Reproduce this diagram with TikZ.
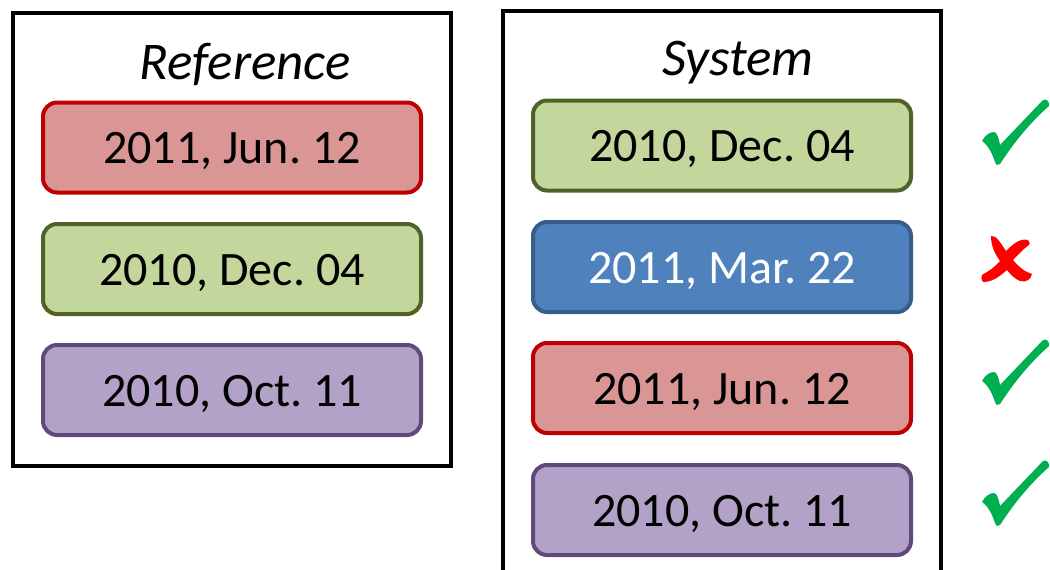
\documentclass[tikz,border=0pt]{standalone}
\usepackage{fontspec}
\setmainfont{Carlito}
\definecolor{redfill}{HTML}{D99694}
\definecolor{redline}{HTML}{C00000}
\definecolor{greenfill}{HTML}{C3D69B}
\definecolor{greenline}{HTML}{4F6228}
\definecolor{bluefill}{HTML}{4F81BD}
\definecolor{blueline}{HTML}{385D8A}
\definecolor{purplefill}{HTML}{B3A2C7}
\definecolor{purpleline}{HTML}{604A7B}
\definecolor{okgreen}{HTML}{00B050}
\definecolor{badred}{HTML}{FF0000}
\tikzset{
  outerbox/.style={draw=black, line width=4.5pt, inner sep=0pt},
  datebox/.style={rounded corners=14pt, line width=4pt, minimum width=378pt,
    minimum height=90pt, inner sep=0pt, text height=32pt, text depth=0pt,
    font=\fontsize{48}{58}\selectfont},
  redbox/.style={datebox, draw=redline, fill=redfill},
  greenbox/.style={datebox, draw=greenline, fill=greenfill},
  bluebox/.style={datebox, draw=blueline, fill=bluefill, text=white},
  purplebox/.style={datebox, draw=purpleline, fill=purplefill},
  title/.style={inner sep=0pt, anchor=base, font=\fontsize{53}{64}\selectfont\itshape},
  checkmark/.pic={
    \fill[okgreen] (-33,10) .. controls (-30,4) and (-25,1) .. (-21,1)
      .. controls (-18,1) and (-16,8) .. (-15,14)
      -- (28,-31) .. controls (31,-33) and (35,-29) .. (34,-25)
      .. controls (15,-8) and (0,10) .. (-15,33)
      .. controls (-17,35) and (-19,34) .. (-20,31)
      .. controls (-23,22) and (-27,14) .. cycle;
  },
  crossmark/.pic={
    \fill[badred] (-15,-24) .. controls (-10,-25) and (-6,-18) .. (0,-9)
      .. controls (7,-16) and (14,-22) .. (22,-20)
      .. controls (24,-18) and (24,-16) .. (23,-15)
      .. controls (17,-11) and (12,-5) .. (7,0)
      .. controls (13,7) and (19,12) .. (26,14)
      .. controls (25,19) and (20,23) .. (14,21)
      .. controls (9,19) and (5,15) .. (1,10)
      .. controls (-6,16) and (-13,22) .. (-23,22)
      .. controls (-25,19) and (-25,17) .. (-24,15)
      .. controls (-17,11) and (-11,7) .. (-6,1)
      .. controls (-11,-6) and (-15,-14) .. cycle;
  }
}
\begin{document}
\begin{tikzpicture}[x=1pt,y=-1pt]
\useasboundingbox (0,0) rectangle (1050,570);
\clip (0,0) rectangle (1050,570);
% left panel
\node[outerbox, minimum width=438pt, minimum height=453pt] (refpanel) at (232,239.5) {};
\node[title] (reftitle) at (245,79) {Reference};
\node[redbox] (r1) at (232,147.5) {2011, Jun.\ 12};
\node[greenbox] (r2) at (232,269) {2010, Dec.\ 04};
\node[purplebox] (r3) at (232,390) {2010, Oct.\ 11};
% right panel
\coordinate (sysbl) at (503,580);
\coordinate (systl) at (503,11);
\coordinate (systr) at (941,11);
\coordinate (sysbr) at (941,580);
\draw[line width=4.5pt] (sysbl) -- (systl) -- (systr) -- (sysbr);
\node[title] (systitle) at (738,75) {System};
\node[greenbox] (s1) at (722,145.5) {2010, Dec.\ 04};
\node[bluebox] (s2) at (722,267) {2011, Mar.\ 22};
\node[redbox] (s3) at (722,388) {2011, Jun.\ 12};
\node[purplebox] (s4) at (722,510) {2010, Oct.\ 11};
% marks
\pic (m1) at (1015,131) {checkmark};
\pic (m2) at (1006,260) {crossmark};
\pic (m3) at (1015,371) {checkmark};
\pic (m4) at (1015,492) {checkmark};
\end{tikzpicture}
\end{document}
